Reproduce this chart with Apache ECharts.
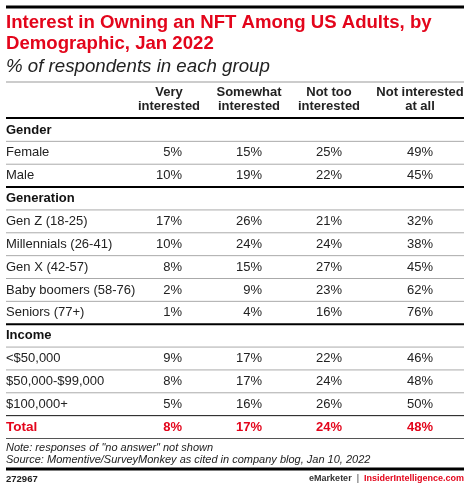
<!DOCTYPE html>
<html>
<head>
<meta charset="utf-8">
<script src="https://cdn.jsdelivr.net/npm/echarts@6/dist/echarts.min.js"></script>
<style>
html,body{margin:0;padding:0;background:#fff;}
#chart{width:470px;height:490px;}
</style>
</head>
<body>
<div id="chart"></div>
<script>
// ---- data ----
const titleText = 'Interest in Owning an NFT Among US Adults, by\nDemographic, Jan 2022';
const subtitleText = '% of respondents in each group';
const columnHeaders = ['Very\ninterested', 'Somewhat\ninterested', 'Not too\ninterested', 'Not interested\nat all'];
const rowLabels = ['Gender', 'Female', 'Male', 'Generation', 'Gen Z (18-25)', 'Millennials (26-41)', 'Gen X (42-57)', 'Baby boomers (58-76)', 'Seniors (77+)', 'Income', '<$50,000', '$50,000-$99,000', '$100,000+', 'Total'];
const rowKinds = ['group', 'row', 'row', 'group', 'row', 'row', 'row', 'row', 'row', 'group', 'row', 'row', 'row', 'total'];
const veryInterested     = [null, 5, 10, null, 17, 10, 8, 2, 1, null, 9, 8, 5, 8];
const somewhatInterested = [null, 15, 19, null, 26, 24, 15, 9, 4, null, 17, 17, 16, 17];
const notTooInterested   = [null, 25, 22, null, 21, 24, 27, 23, 16, null, 22, 24, 26, 24];
const notInterestedAtAll = [null, 49, 45, null, 32, 38, 45, 62, 76, null, 46, 48, 50, 48];
const noteText = 'Note: responses of "no answer" not shown';
const sourceText = 'Source: Momentive/SurveyMonkey as cited in company blog, Jan 10, 2022';
const chartId = '272967';

// ---- layout / style ----
const RED = '#e3051b';
const FONT = '"Liberation Sans", Arial, sans-serif';
const L = 6, R = 464;
const valueRight = [182, 262, 342, 433];
const headerCenter = [169, 249, 329, 420];
const columns = [veryInterested, somewhatInterested, notTooInterested, notInterestedAtAll];

function txt(x, y, text, opt) {
  const s = Object.assign({
    x: x, y: y, text: text, fill: '#222',
    fontSize: 13, fontFamily: FONT, fontWeight: 'normal', fontStyle: 'normal',
    align: 'left', verticalAlign: 'middle', textAlign: 'left', textVerticalAlign: 'middle'
  }, opt || {});
  if (opt && opt.align) s.textAlign = opt.align;
  return { type: 'text', silent: true, style: s };
}
function hline(y, w, color) {
  return { type: 'line', silent: true, shape: { x1: L, y1: y, x2: R, y2: y }, style: { stroke: color, lineWidth: w } };
}

const graphics = [
  hline(7, 3, '#000'),
  hline(82, 1, '#999'),
  hline(118, 2, '#000'),
  hline(469, 3, '#000'),
  txt(L, 447.5, noteText, { fontSize: 11, fontStyle: 'italic', fill: '#222' }),
  txt(L, 460, sourceText, { fontSize: 11, fontStyle: 'italic', fill: '#222' }),
  txt(L, 479, chartId, { fontSize: 9.5, fontWeight: 'bold', fill: '#222' }),
  {
    type: 'text', silent: true,
    style: {
      x: R, y: 479, align: 'right', verticalAlign: 'middle', textAlign: 'right', textVerticalAlign: 'middle',
      text: '{a|eMarketer}{b|  |  }{c|InsiderIntelligence.com}',
      rich: {
        a: { fontSize: 9, fontWeight: 'bold', fontFamily: FONT, fill: '#333', color: '#333' },
        b: { fontSize: 9, fontFamily: FONT, fill: '#333', color: '#333' },
        c: { fontSize: 9, fontWeight: 'bold', fontFamily: FONT, fill: RED, color: RED }
      }
    }
  }
];
columnHeaders.forEach(function (h, j) {
  graphics.push({
    type: 'text', silent: true,
    style: {
      x: headerCenter[j], y: 99, text: h, fill: '#222', fontSize: 13, fontWeight: 'bold', fontFamily: FONT,
      lineHeight: 14, align: 'center', verticalAlign: 'middle', textAlign: 'center', textVerticalAlign: 'middle'
    }
  });
});

const chart = echarts.init(document.getElementById('chart'), null, { renderer: 'canvas' });
chart.setOption({
  animation: false,
  backgroundColor: '#fff',
  title: [
    {
      text: titleText, left: L, top: 12.5, padding: 0,
      textStyle: { color: RED, fontSize: 18.6, fontWeight: 'bold', fontFamily: FONT, lineHeight: 21 }
    },
    {
      text: subtitleText, left: L, top: 57, padding: 0,
      textStyle: { color: '#222', fontSize: 18.7, fontStyle: 'italic', fontWeight: 'normal', fontFamily: FONT, lineHeight: 20 }
    }
  ],
  grid: { left: 0, right: 0, top: 118.5, bottom: 51.5 },
  xAxis: { type: 'value', min: 0, max: 470, show: false },
  yAxis: { type: 'category', data: rowLabels, inverse: true, show: false },
  graphic: { elements: graphics },
  series: [{
    type: 'custom',
    data: rowLabels.map(function (lab, i) { return [0, i]; }),
    encode: { x: 0, y: 1 },
    clip: false,
    renderItem: function (params, api) {
      const i = api.value(1);
      const c = api.coord([0, i]);
      const band = api.size([0, 1])[1];
      const yc = c[1];
      const kind = rowKinds[i];
      const children = [];
      const labelOpt = kind === 'group' ? { fontWeight: 'bold', fill: '#111' }
        : kind === 'total' ? { fontWeight: 'bold', fill: RED, fontSize: 13.5 }
        : { fill: '#222' };
      children.push(txt(L, yc, rowLabels[i], labelOpt));
      if (kind !== 'group') {
        columns.forEach(function (col, j) {
          const v = col[i];
          if (v == null) return;
          const o = kind === 'total'
            ? { fontWeight: 'bold', fill: RED, fontSize: 13, align: 'right' }
            : { fill: '#222', align: 'right' };
          children.push(txt(valueRight[j], yc, v + '%', o));
        });
      }
      // separator below row
      const yb = yc + band / 2;
      let color = '#aaa', w = 1;
      if (i === rowLabels.length - 1) { color = '#555'; w = 1; }
      else if (rowKinds[i + 1] === 'total') { color = '#111'; w = 1; }
      else if (rowKinds[i + 1] === 'group') { color = '#000'; w = 2; }
      children.push(hline(yb, w, color));
      return { type: 'group', children: children };
    }
  }]
});
</script>
</body>
</html>
